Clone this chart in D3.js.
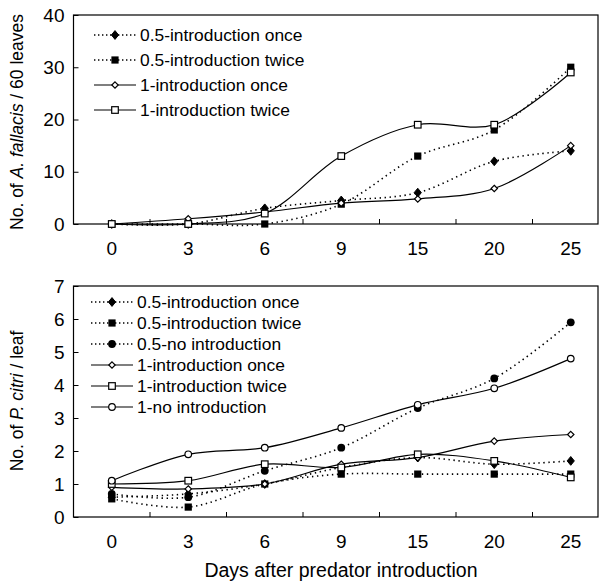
<!DOCTYPE html>
<html><head><meta charset="utf-8">
<script src="https://cdn.jsdelivr.net/npm/d3@7"></script>
<style>body{margin:0;background:#fff}svg{display:block}text{font-family:"Liberation Sans",Arial,sans-serif;fill:#000}</style>
</head><body><svg id="c" width="609" height="582"></svg>
<script>
const days = ["0","3","6","9","15","20","25"];
// Top panel: A. fallacis / 60 leaves
const topNames = ["0.5-introduction once","0.5-introduction twice","1-introduction once","1-introduction twice"];
const topOnce05  = [0, 0, 3, 4.5, 6, 12, 14];
const topTwice05 = [0, 0, 0, 3.8, 13, 18, 30];
const topOnce1   = [0, 1, 2.3, 4, 4.8, 6.8, 15];
const topTwice1  = [0, 0, 2, 13, 19, 19, 29];
const topTicks = [0, 10, 20, 30, 40];
// Bottom panel: P. citri / leaf
const botNames = ["0.5-introduction once","0.5-introduction twice","0.5-no introduction","1-introduction once","1-introduction twice","1-no introduction"];
const botOnce05  = [0.6, 0.7, 1.0, 1.5, 1.8, 1.6, 1.7];
const botTwice05 = [0.55, 0.3, 1.0, 1.3, 1.3, 1.3, 1.3];
const botNone05  = [0.7, 0.6, 1.4, 2.1, 3.3, 4.2, 5.9];
const botOnce1   = [0.9, 0.85, 1.0, 1.6, 1.8, 2.3, 2.5];
const botTwice1  = [1.0, 1.1, 1.6, 1.5, 1.9, 1.7, 1.2];
const botNone1   = [1.1, 1.9, 2.1, 2.7, 3.4, 3.9, 4.8];
const botTicks = [0, 1, 2, 3, 4, 5, 6, 7];
const xTitle = "Days after predator introduction";

const svg = d3.select("#c");
const x = d3.scaleBand().domain(days).range([73.5, 609]).paddingInner(0).paddingOuter(0);
const xc = d => x(d) + x.bandwidth()/2;
const frameRight = 598;

function marker(g, type, cx, cy) {
  const s = 3.6;
  if (type === "diamond") {
    g.append("path").attr("d", `M${cx},${cy-s-0.8}L${cx+s},${cy}L${cx},${cy+s+0.8}L${cx-s},${cy}Z`)
      .attr("fill", "#000").attr("stroke", "#000").attr("stroke-width", 1);
  } else if (type === "odiamond") {
    g.append("path").attr("d", `M${cx},${cy-3.2}L${cx+3.2},${cy}L${cx},${cy+3.2}L${cx-3.2},${cy}Z`)
      .attr("fill", "#fff").attr("stroke", "#000").attr("stroke-width", 1.2);
  } else if (type === "square") {
    g.append("rect").attr("x", cx-s).attr("y", cy-s).attr("width", 2*s).attr("height", 2*s)
      .attr("fill", "#000");
  } else if (type === "osquare") {
    g.append("rect").attr("x", cx-s+0.3).attr("y", cy-s+0.3).attr("width", 2*s-0.6).attr("height", 2*s-0.6)
      .attr("fill", "#fff").attr("stroke", "#000").attr("stroke-width", 1.2);
  } else if (type === "circle") {
    g.append("circle").attr("cx", cx).attr("cy", cy).attr("r", s+0.3).attr("fill", "#000");
  } else if (type === "ocircle") {
    g.append("circle").attr("cx", cx).attr("cy", cy).attr("r", 3.3).attr("fill", "#fff")
      .attr("stroke", "#000").attr("stroke-width", 1.2);
  }
}

function panel(cfg) {
  const y = d3.scaleLinear().domain([0, cfg.max]).range([cfg.bottom, cfg.top]);
  const g = svg.append("g");
  g.append("rect").attr("x", 73.5).attr("y", cfg.top).attr("width", frameRight - 73.5)
    .attr("height", cfg.bottom - cfg.top).attr("fill", "none").attr("stroke", "#000").attr("stroke-width", 1.2);
  const ya = d3.axisLeft(y).tickValues(cfg.ticks).tickFormat(d3.format("d"))
    .tickSizeInner(-5).tickSizeOuter(0).tickPadding(9);
  const yg = g.append("g").attr("transform", "translate(73.5,0)").call(ya);
  yg.select(".domain").remove();
  yg.selectAll("text").style("font-size", "19px").attr("font-family", "Liberation Sans, Arial, sans-serif");
  const bounds = days.slice(1).map(d => x(d));
  g.selectAll(".xt").data(bounds).enter().append("line")
    .attr("x1", d => d).attr("x2", d => d).attr("y1", cfg.bottom).attr("y2", cfg.bottom - 5)
    .attr("stroke", "#000").attr("stroke-width", 1);
  g.selectAll(".xl").data(days).enter().append("text")
    .attr("x", d => xc(d)).attr("y", cfg.bottom + 31).attr("text-anchor", "middle")
    .style("font-size", "19px").text(d => d);
  const line = d3.line().x((v, i) => xc(days[i])).y(v => y(v)).curve(d3.curveCatmullRom.alpha(0.5));
  cfg.series.forEach(s => {
    g.append("path").attr("d", line(s.values)).attr("fill", "none").attr("stroke", "#000")
      .attr("stroke-width", s.dotted ? 1.6 : 1.2)
      .attr("stroke-dasharray", s.dotted ? "1.4,3.6" : null);
  });
  cfg.series.forEach(s => {
    s.values.forEach((v, i) => marker(g, s.marker, xc(days[i]), y(v)));
  });
  cfg.series.forEach((s, i) => {
    const ly = cfg.legY + i * cfg.legStep;
    g.append("line").attr("x1", cfg.legX).attr("x2", cfg.legX + 42).attr("y1", ly).attr("y2", ly)
      .attr("stroke", "#000").attr("stroke-width", s.dotted ? 1.6 : 1.2)
      .attr("stroke-dasharray", s.dotted ? "1.4,2.6" : null);
    marker(g, s.marker, cfg.legX + 21, ly);
    g.append("text").attr("x", cfg.legX + 46).attr("y", ly + 6).style("font-size", "17.4px").text(s.name);
  });
  const t = g.append("text").attr("transform", `translate(${cfg.titleX},${cfg.titleY}) rotate(-90)`)
    .attr("text-anchor", "middle").style("font-size", "17.5px");
  cfg.title.forEach(p => t.append("tspan").style("font-style", p.it ? "italic" : "normal").text(p.t));
}

panel({
  max: 40, top: 15, bottom: 224, ticks: topTicks,
  series: [
    {name: topNames[0], values: topOnce05, marker: "diamond", dotted: true},
    {name: topNames[1], values: topTwice05, marker: "square", dotted: true},
    {name: topNames[2], values: topOnce1, marker: "odiamond", dotted: false},
    {name: topNames[3], values: topTwice1, marker: "osquare", dotted: false}
  ],
  legX: 94, legY: 35, legStep: 25,
  titleX: 23, titleY: 122,
  title: [{t: "No. of "}, {t: "A. fallacis", it: true}, {t: " / 60 leaves"}]
});

panel({
  max: 7, top: 286, bottom: 517, ticks: botTicks,
  series: [
    {name: botNames[0], values: botOnce05, marker: "diamond", dotted: true},
    {name: botNames[1], values: botTwice05, marker: "square", dotted: true},
    {name: botNames[2], values: botNone05, marker: "circle", dotted: true},
    {name: botNames[3], values: botOnce1, marker: "odiamond", dotted: false},
    {name: botNames[4], values: botTwice1, marker: "osquare", dotted: false},
    {name: botNames[5], values: botNone1, marker: "ocircle", dotted: false}
  ],
  legX: 91, legY: 302, legStep: 21,
  titleX: 23, titleY: 401,
  title: [{t: "No. of "}, {t: "P. citri", it: true}, {t: " / leaf"}]
});

svg.append("text").attr("x", 341).attr("y", 577).attr("text-anchor", "middle")
  .style("font-size", "19.5px").text(xTitle);
</script></body></html>
